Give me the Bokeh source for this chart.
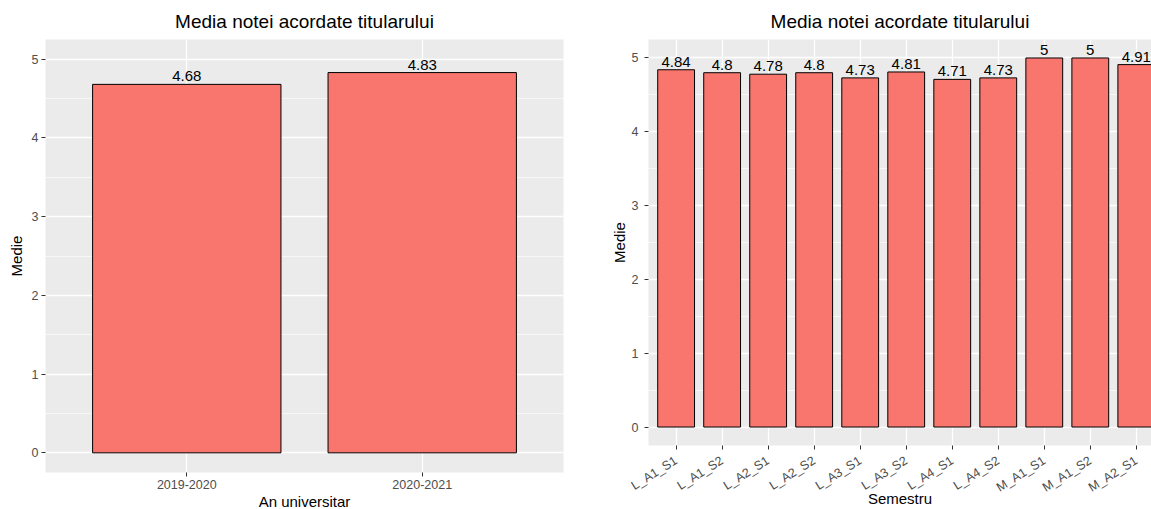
import math
from bokeh.plotting import figure
from bokeh.layouts import row
from bokeh.models import Range1d, FixedTicker, ColumnDataSource
from bokeh.embed import file_html
from bokeh.resources import INLINE

# ---- data ----
years = ["2019-2020", "2020-2021"]
year_means = [4.68, 4.83]

semesters = ["L_A1_S1", "L_A1_S2", "L_A2_S1", "L_A2_S2", "L_A3_S1", "L_A3_S2",
             "L_A4_S1", "L_A4_S2", "M_A1_S1", "M_A1_S2", "M_A2_S1"]
sem_means = [4.84, 4.8, 4.78, 4.8, 4.73, 4.81, 4.71, 4.73, 5, 5, 4.91]

title_text = "Media notei acordate titularului"
y_title = "Medie"
y_ticks = [0, 1, 2, 3, 4, 5]
y_minor = [0.5, 1.5, 2.5, 3.5, 4.5]

FONT = "Liberation Sans"
BAR_FILL = "#F8766D"
PANEL_BG = "#EBEBEB"


def make_panel(cats, vals, xlabel, frame_w, frame_h, bl, br, bb, x_end, rot,
               ylab_standoff, ytick_standoff, xtick_standoff, xlab_standoff):
    n = len(cats)
    xs = list(range(1, n + 1))
    src = ColumnDataSource(dict(x=xs, top=vals, lab=[f"{v:g}" for v in vals]))
    p = figure(output_backend="svg", toolbar_location=None,
               x_range=Range1d(0.4, x_end), y_range=Range1d(-0.25, 5.25),
               frame_width=frame_w, frame_height=frame_h,
               min_border_left=bl, min_border_top=39, min_border_right=br,
               min_border_bottom=bb)
    p.background_fill_color = PANEL_BG
    p.border_fill_color = "white"
    p.outline_line_color = None

    p.title.text = title_text
    p.title.text_font = FONT
    p.title.text_font_size = "19px"
    p.title.text_font_style = "normal"
    p.title.text_color = "black"
    p.title.align = "center"
    p.title.standoff = 15

    p.vbar(x="x", top="top", bottom=0, width=0.8, source=src,
           fill_color=BAR_FILL, line_color="black", line_width=1)
    p.text(x="x", y="top", text="lab", source=src, text_align="center",
           text_baseline="bottom", y_offset=-3, text_font_size="15px",
           text_font={"value": FONT}, text_color="black")

    # grids
    p.xgrid.ticker = FixedTicker(ticks=xs)
    p.ygrid.ticker = FixedTicker(ticks=y_ticks, minor_ticks=y_minor)
    for g in (p.xgrid, p.ygrid):
        g.grid_line_color = "white"
        g.grid_line_width = 1.3
    p.ygrid.minor_grid_line_color = "white"
    p.ygrid.minor_grid_line_width = 0.6

    # axes
    p.xaxis.ticker = FixedTicker(ticks=xs)
    p.xaxis.major_label_overrides = {i: c for i, c in zip(xs, cats)}
    p.yaxis.ticker = FixedTicker(ticks=y_ticks)
    for ax in (p.xaxis[0], p.yaxis[0]):
        ax.axis_line_color = None
        ax.major_tick_line_color = "#333333"
        ax.major_tick_out = 4
        ax.major_tick_in = 0
        ax.minor_tick_line_color = None
        ax.major_label_text_font = FONT
        ax.major_label_text_font_size = "12.5px"
        ax.major_label_text_color = "#4D4D4D"
        ax.axis_label_text_font = FONT
        ax.axis_label_text_font_size = "15px"
        ax.axis_label_text_font_style = "normal"
        ax.axis_label_text_color = "black"
    p.yaxis.axis_label = y_title
    p.yaxis.major_label_standoff = ytick_standoff
    p.yaxis.axis_label_standoff = ylab_standoff
    p.xaxis.axis_label = xlabel
    p.xaxis.major_label_standoff = xtick_standoff
    p.xaxis.axis_label_standoff = xlab_standoff
    if rot:
        p.xaxis.major_label_orientation = rot
    return p


left = make_panel(years, year_means, "An universitar", 518, 433, 45, 17, 37, 2.6, None,
                  4, 3, 3, 1)
right = make_panel(semesters, sem_means, "Semestru", 503, 406, 68, 0, 60, 11.33,
                   math.radians(32), 1, 6, 10, -13)

layout = row(left, right)
open("out.html", "w").write(file_html(layout, INLINE))
